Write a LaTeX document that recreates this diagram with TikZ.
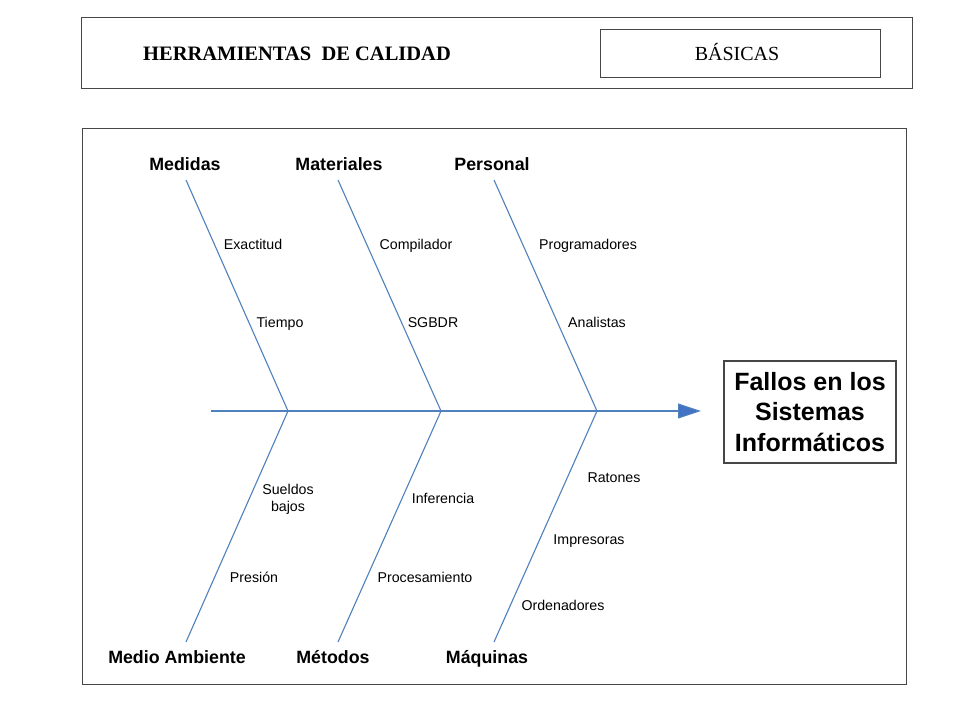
\documentclass[tikz,border=0pt]{standalone}
\usepackage{fontspec}
\setmainfont{Liberation Sans}
\newfontfamily\timesfont{Liberation Serif}
\usetikzlibrary{arrows.meta}
\definecolor{bone}{RGB}{79,129,189}
\definecolor{arrowblue}{RGB}{68,114,196}
\definecolor{framegray}{RGB}{70,70,70}
\tikzset{
  cat/.style={font=\fontsize{17.8}{20}\selectfont\bfseries, inner sep=0pt, anchor=center, text height=17pt, text depth=3.6pt},
  subbase/.style={font=\fontsize{14.2}{17}\selectfont, inner sep=0pt, align=center, anchor=center},
  sub/.style={subbase, text height=14.4pt, text depth=3pt},
  bonestyle/.style={draw=bone, line width=1.1pt},
  framestyle/.style={draw=framegray, line width=0.9pt},
}
\begin{document}
\begin{tikzpicture}[x=1pt,y=-1pt]
\useasboundingbox (0,0) rectangle (960,720);
\fill[white] (0,0) rectangle (960,720);
% header
\draw[framestyle] (81,17) rectangle (912,88);
\node[font=\timesfont\fontsize{20.5}{22}\selectfont\bfseries, inner sep=0pt] (title) at (297,54) {HERRAMIENTAS\ \ DE CALIDAD};
\node[draw=framegray, line width=0.9pt, minimum width=280pt, minimum height=48pt, inner sep=0pt] (basicas) at (740,53) {};
\node[font=\timesfont\fontsize{20}{22}\selectfont, inner sep=0pt] (basicastext) at (737,52) {BÁSICAS};
% diagram frame
\draw[framestyle] (82,128) rectangle (906,684);
% coordinates
\coordinate (s0) at (211,411);
\coordinate (j1) at (288,411);
\coordinate (j2) at (441,411);
\coordinate (j3) at (597,411);
\coordinate (tip) at (701,411);
\coordinate (u1) at (186,180);
\coordinate (u2) at (338,180);
\coordinate (u3) at (494,180);
\coordinate (l1) at (186,642);
\coordinate (l2) at (338,642);
\coordinate (l3) at (494,642);
% bones
\draw[bonestyle] (s0) -- (j1) -- (j2) -- (j3);
\draw[bonestyle, -{Triangle[length=23pt,width=15pt,fill=arrowblue]}] (j3) -- (tip);
\draw[bonestyle] (u1) -- (j1) -- (l1);
\draw[bonestyle] (u2) -- (j2) -- (l2);
\draw[bonestyle] (u3) -- (j3) -- (l3);
% category labels
\node[cat] (medidas) at (185,164) {Medidas};
\node[cat] (materiales) at (339,164) {Materiales};
\node[cat] (personal) at (492,164) {Personal};
\node[cat] (medio) at (177,657) {Medio Ambiente};
\node[cat] (metodos) at (333,657) {Métodos};
\node[cat] (maquinas) at (487,657) {Máquinas};
% sub causes
\node[sub] (exactitud) at (253,244) {Exactitud};
\node[sub] (tiempo) at (280,322) {Tiempo};
\node[sub] (compilador) at (416,244) {Compilador};
\node[sub] (sgbdr) at (433,322) {SGBDR};
\node[sub] (programadores) at (588,244) {Programadores};
\node[sub] (analistas) at (597,322) {Analistas};
\node[subbase] (sueldos) at (288,499) {Sueldos\\bajos};
\node[sub] (presion) at (254,577) {Presión};
\node[sub] (inferencia) at (443,498) {Inferencia};
\node[sub] (procesamiento) at (425,577) {Procesamiento};
\node[sub] (ratones) at (614,477) {Ratones};
\node[sub] (impresoras) at (589,539) {Impresoras};
\node[sub] (ordenadores) at (563,605) {Ordenadores};
% effect
\node[draw=framegray, line width=1.2pt, minimum width=172pt, minimum height=102pt, inner sep=0pt] (effectbox) at (810,412) {};
\node[font=\fontsize{25}{30.5}\selectfont\bfseries, align=center, inner sep=0pt] (effect) at (810,412) {Fallos en los\\Sistemas\\Informáticos};
\end{tikzpicture}
\end{document}
